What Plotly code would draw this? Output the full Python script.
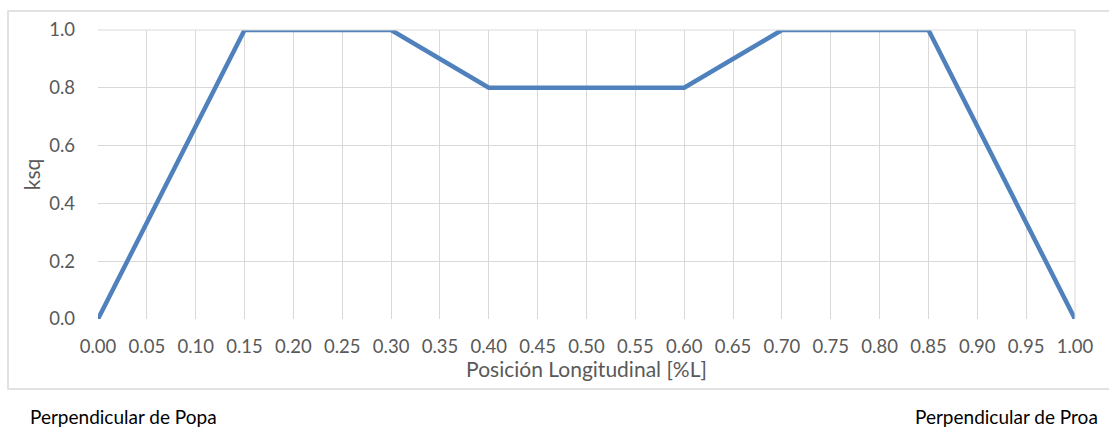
import plotly.graph_objects as go

pos = [0.0, 0.15, 0.30, 0.40, 0.60, 0.70, 0.85, 1.0]
ksq = [0.0, 1.0, 1.0, 0.8, 0.8, 1.0, 1.0, 0.0]
x_ticks = [round(i * 0.05, 2) for i in range(21)]
y_ticks = [0.0, 0.2, 0.4, 0.6, 0.8, 1.0]

W, H = 1109, 431
L, R, T, B = 98, 1075, 30, 319
pw, ph = R - L, B - T

def px(x):
    return (x - L) / pw

def py(y):
    return (B - y) / ph

fig = go.Figure()
fig.add_trace(go.Scatter(x=pos, y=ksq, mode="lines",
                         line=dict(color="#4f81bd", width=4.5),
                         showlegend=False, hoverinfo="skip"))

font = "Lato, Carlito, Calibri, sans-serif"
grey = "#595959"
fig.update_layout(
    width=W, height=H,
    margin=dict(l=L, r=W - R, t=T, b=H - B),
    paper_bgcolor="white", plot_bgcolor="white",
    font=dict(family=font, color=grey),
    xaxis=dict(range=[0, 1], tickvals=x_ticks,
               ticktext=[f"{v:.2f}" for v in x_ticks],
               showgrid=True, gridcolor="#d9d9d9", gridwidth=1,
               zeroline=False, showline=False, ticks="",
               ticklabelstandoff=14,
               tickfont=dict(size=18.5, color=grey),
               title=dict(text="Posición Longitudinal [%L]",
                          font=dict(size=21, color=grey), standoff=1)),
    yaxis=dict(range=[0, 1], tickvals=y_ticks,
               ticktext=[f"{v:.1f}" for v in y_ticks],
               showgrid=True, gridcolor="#d9d9d9", gridwidth=1,
               zeroline=False, showline=False, ticks="",
               ticklabelstandoff=22,
               tickfont=dict(size=18.5, color=grey),
               title=dict(text="ksq", font=dict(size=21, color=grey),
                          standoff=2)),
    shapes=[
        dict(type="rect", xref="paper", yref="paper",
             x0=px(8), x1=px(1120), y0=py(389), y1=py(11),
             line=dict(color="#d9d9d9", width=1.5), layer="below"),
        dict(type="line", xref="paper", yref="paper",
             x0=0, x1=1, y0=1, y1=1, line=dict(color="#d9d9d9", width=1)),
        dict(type="line", xref="paper", yref="paper",
             x0=1, x1=1, y0=0, y1=1, line=dict(color="#d9d9d9", width=1)),
    ],
    annotations=[
        dict(text="Perpendicular de Popa", xref="paper", yref="paper",
             x=px(28), y=py(417), xanchor="left", yanchor="middle",
             showarrow=False, font=dict(family=font, size=19, color="black")),
        dict(text="Perpendicular de Proa", xref="paper", yref="paper",
             x=px(1100), y=py(417), xanchor="right", yanchor="middle",
             showarrow=False, font=dict(family=font, size=19, color="black")),
    ],
)

fig.write_html("out.html",
               config={"displayModeBar": False},
               post_script="document.body.style.margin='0';"
                           "document.body.style.overflow='hidden';")
